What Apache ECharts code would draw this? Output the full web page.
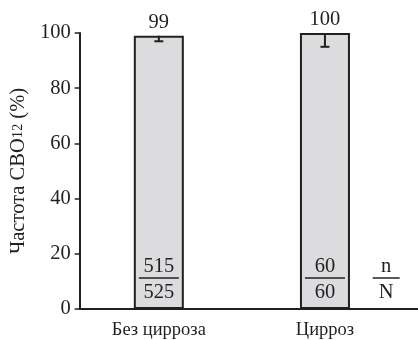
<!DOCTYPE html>
<html><head><meta charset="utf-8">
<script src="https://cdn.jsdelivr.net/npm/echarts@6/dist/echarts.min.js"></script>
<style>html,body{margin:0;padding:0;background:#fff}#c{width:418px;height:340px}</style>
</head><body><div id="c"></div>
<script>
// ---- data ----
const categories = ['Без цирроза', 'Цирроз'];
const frequency = [99, 100];
const errorLower = [97, 95];
const nCount = [515, 60];
const NTotal = [525, 60];
const yTicks = [0, 20, 40, 60, 80, 100];
const legendNum = 'n';
const legendDen = 'N';

// ---- layout ----
const FONT = '"Liberation Serif","Times New Roman",serif';
const INK = '#231f20';
const slotX = [23.4, 72.5];   // category centres along a 0..100 x scale
const legendX = 90.6;

const chart = echarts.init(document.getElementById('c'), null, {renderer: 'canvas'});

const fracNum = nCount.map(String).concat([legendNum]);
const fracDen = NTotal.map(String).concat([legendDen]);
const fracX = slotX.concat([legendX]);
const fracW = [40, 40, 27];

chart.setOption({
  animation: false,
  grid: {left: 76, right: 0, top: 33, bottom: 25},
  xAxis: {
    type: 'value', min: 0, max: 100,
    axisLine: {lineStyle: {color: INK, width: 2}},
    axisTick: {show: false},
    splitLine: {show: false},
    axisLabel: {
      customValues: slotX,
      formatter: function (v) {
        let best = 0;
        slotX.forEach(function (s, i) { if (Math.abs(s - v) < Math.abs(slotX[best] - v)) best = i; });
        return categories[best];
      },
      fontFamily: FONT, fontSize: 18.5, color: INK, margin: 12
    }
  },
  yAxis: {
    type: 'value', min: yTicks[0], max: yTicks[yTicks.length - 1], interval: yTicks[1] - yTicks[0],
    axisLine: {show: true, lineStyle: {color: INK, width: 2}},
    axisTick: {show: true, length: 5, lineStyle: {color: INK, width: 1.5}},
    splitLine: {show: false},
    axisLabel: {fontFamily: FONT, fontSize: 20.5, color: INK, margin: 9},
    name: '{a|Частота СВО}{b|12}{a| (%)}',
    nameLocation: 'middle', nameRotate: 90, nameGap: 42,
    nameTextStyle: {
      rich: {
        a: {fontFamily: FONT, fontSize: 20.5, color: INK},
        b: {fontFamily: FONT, fontSize: 14.5, color: INK}
      }
    }
  },
  series: [
    {
      type: 'bar',
      barWidth: 50,
      data: frequency.map(function (v, i) { return [slotX[i], v]; }),
      itemStyle: {color: '#dcdcde', borderColor: INK, borderWidth: 2},
      label: {
        show: true, position: 'top', distance: 3,
        formatter: function (p) { return String(p.value[1]); },
        fontFamily: FONT, fontSize: 20.5, color: INK
      },
      z: 2
    },
    {
      type: 'custom',
      data: frequency.map(function (v, i) { return [slotX[i], v, errorLower[i]]; }),
      renderItem: function (params, api) {
        const top = api.coord([api.value(0), api.value(1)]);
        const lo = api.coord([api.value(0), api.value(2)]);
        const st = {stroke: INK, lineWidth: 2};
        return {
          type: 'group',
          children: [
            {type: 'line', shape: {x1: top[0], y1: top[1], x2: lo[0], y2: lo[1]}, style: st},
            {type: 'line', shape: {x1: lo[0] - 4.5, y1: lo[1], x2: lo[0] + 4.5, y2: lo[1]}, style: st}
          ]
        };
      },
      z: 3
    },
    {
      type: 'custom',
      data: fracX.map(function (x) { return [x, 0]; }),
      renderItem: function (params, api) {
        const i = params.dataIndex;
        const p = api.coord([api.value(0), 0]);
        const w = fracW[i];
        const ts = {fill: INK, font: '20.5px ' + FONT, textAlign: 'center', textVerticalAlign: 'middle'};
        return {
          type: 'group',
          children: [
            {type: 'text', style: Object.assign({text: fracNum[i], x: p[0], y: p[1] - 42}, ts)},
            {type: 'line', shape: {x1: p[0] - w / 2, y1: p[1] - 31, x2: p[0] + w / 2, y2: p[1] - 31}, style: {stroke: INK, lineWidth: 1.5}},
            {type: 'text', style: Object.assign({text: fracDen[i], x: p[0], y: p[1] - 16.5}, ts)}
          ]
        };
      },
      z: 4
    }
  ]
});
</script>
</body></html>
